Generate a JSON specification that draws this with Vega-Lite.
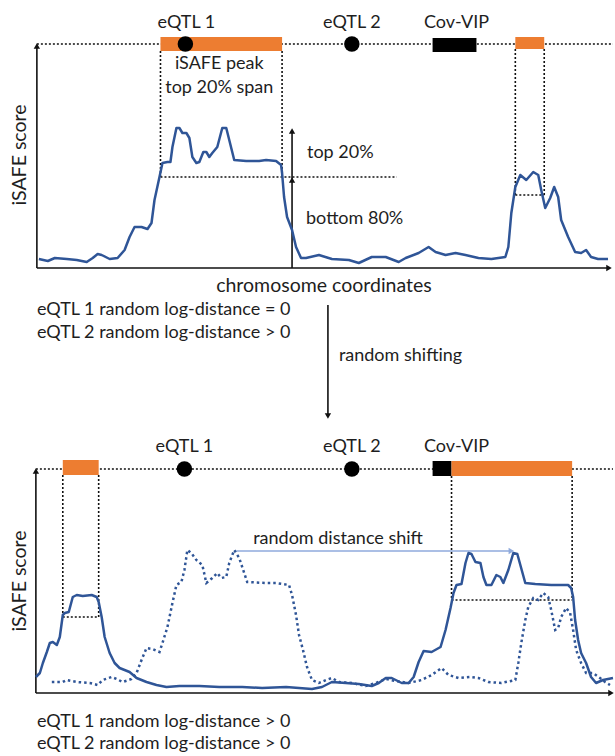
{
  "$schema": "https://vega.github.io/schema/vega-lite/v6.json",
  "width": 615,
  "height": 756,
  "padding": 0,
  "autosize": {"type": "fit", "contains": "padding"},
  "background": "white",
  "config": {
    "view": {"stroke": null},
    "axis": {"disable": true},
    "text": {"font": "Lato", "fontSize": 18, "color": "#1e1e1e"}
  },
  "datasets": {
    "dotted": [
      {"x": 37, "y": 44, "x2": 615, "y2": 44},
      {"x": 161, "y": 51, "x2": 161, "y2": 177},
      {"x": 283, "y": 51, "x2": 283, "y2": 177},
      {"x": 161, "y": 177, "x2": 398, "y2": 177},
      {"x": 517, "y": 49, "x2": 517, "y2": 195},
      {"x": 546, "y": 49, "x2": 546, "y2": 195},
      {"x": 517, "y": 195, "x2": 546, "y2": 195},
      {"x": 36, "y": 469, "x2": 615, "y2": 469},
      {"x": 63, "y": 475, "x2": 63, "y2": 617},
      {"x": 99, "y": 475, "x2": 99, "y2": 617},
      {"x": 63, "y": 617, "x2": 99, "y2": 617},
      {"x": 453, "y": 476, "x2": 453, "y2": 600},
      {"x": 574, "y": 476, "x2": 574, "y2": 600},
      {"x": 453, "y": 600, "x2": 574, "y2": 600}
    ],
    "solid": [
      {"x": 37, "y": 48, "x2": 37, "y2": 268},
      {"x": 37, "y": 268, "x2": 609, "y2": 268},
      {"x": 36, "y": 473, "x2": 36, "y2": 693},
      {"x": 36, "y": 693, "x2": 611, "y2": 693},
      {"x": 293, "y": 268, "x2": 293, "y2": 132},
      {"x": 329, "y": 305, "x2": 329, "y2": 414}
    ],
    "shift": [
      {"x": 237, "y": 551, "x2": 511, "y2": 551}
    ],
    "heads": [
      {"x": 37, "y": 46, "dir": "up", "tone": "black"},
      {"x": 36, "y": 471, "dir": "up", "tone": "black"},
      {"x": 293, "y": 131, "dir": "up", "tone": "black"},
      {"x": 293, "y": 180, "dir": "up", "tone": "black"},
      {"x": 611, "y": 268, "dir": "right", "tone": "black"},
      {"x": 613, "y": 693, "dir": "right", "tone": "black"},
      {"x": 329, "y": 416, "dir": "down", "tone": "black"},
      {"x": 513, "y": 551, "dir": "right", "tone": "shift"}
    ],
    "spans": [
      {"x": 161, "x2": 283, "y": 37, "y2": 51, "kind": "iSAFE peak"},
      {"x": 517, "x2": 546, "y": 37, "y2": 49, "kind": "iSAFE peak"},
      {"x": 434, "x2": 478, "y": 38, "y2": 52, "kind": "Cov-VIP"},
      {"x": 63, "x2": 99, "y": 460, "y2": 475, "kind": "iSAFE peak"},
      {"x": 434, "x2": 453, "y": 461, "y2": 476, "kind": "Cov-VIP"},
      {"x": 453, "x2": 574, "y": 461, "y2": 476, "kind": "iSAFE peak"}
    ],
    "eqtl": [
      {"x": 186, "y": 44, "name": "eQTL 1"},
      {"x": 353, "y": 44, "name": "eQTL 2"},
      {"x": 185, "y": 469, "name": "eQTL 1"},
      {"x": 353, "y": 469, "name": "eQTL 2"}
    ],
    "observed": [
      {"x": 39, "y": 259}, {"x": 48, "y": 261}, {"x": 55, "y": 258}, {"x": 67, "y": 259},
      {"x": 77, "y": 260}, {"x": 87, "y": 262}, {"x": 93, "y": 258}, {"x": 98, "y": 254},
      {"x": 102, "y": 255}, {"x": 110, "y": 259}, {"x": 118, "y": 258}, {"x": 125, "y": 250},
      {"x": 130, "y": 237}, {"x": 135, "y": 227}, {"x": 142, "y": 227}, {"x": 148, "y": 229},
      {"x": 152, "y": 223}, {"x": 155, "y": 200}, {"x": 160, "y": 177}, {"x": 163, "y": 163},
      {"x": 168, "y": 162}, {"x": 171, "y": 162}, {"x": 173, "y": 147}, {"x": 177, "y": 128},
      {"x": 180, "y": 128}, {"x": 183, "y": 133}, {"x": 187, "y": 133}, {"x": 190, "y": 138},
      {"x": 193, "y": 157}, {"x": 197, "y": 163}, {"x": 200, "y": 162}, {"x": 204, "y": 152},
      {"x": 207, "y": 152}, {"x": 210, "y": 157}, {"x": 213, "y": 153}, {"x": 218, "y": 147},
      {"x": 223, "y": 128}, {"x": 227, "y": 128}, {"x": 230, "y": 140}, {"x": 235, "y": 160},
      {"x": 247, "y": 161}, {"x": 260, "y": 161}, {"x": 267, "y": 160}, {"x": 277, "y": 161},
      {"x": 282, "y": 165}, {"x": 283, "y": 173}, {"x": 285, "y": 197}, {"x": 288, "y": 217},
      {"x": 293, "y": 230}, {"x": 297, "y": 247}, {"x": 302, "y": 258}, {"x": 307, "y": 258},
      {"x": 320, "y": 255}, {"x": 333, "y": 259}, {"x": 350, "y": 260}, {"x": 360, "y": 263},
      {"x": 373, "y": 257}, {"x": 387, "y": 257}, {"x": 400, "y": 262}, {"x": 407, "y": 258},
      {"x": 420, "y": 253}, {"x": 430, "y": 247}, {"x": 437, "y": 252}, {"x": 447, "y": 255},
      {"x": 457, "y": 253}, {"x": 467, "y": 255}, {"x": 480, "y": 258}, {"x": 493, "y": 259},
      {"x": 507, "y": 257}, {"x": 510, "y": 247}, {"x": 513, "y": 213}, {"x": 517, "y": 187},
      {"x": 522, "y": 175}, {"x": 528, "y": 180}, {"x": 535, "y": 172}, {"x": 540, "y": 175},
      {"x": 543, "y": 190}, {"x": 547, "y": 208}, {"x": 552, "y": 198}, {"x": 556, "y": 187},
      {"x": 560, "y": 197}, {"x": 563, "y": 220}, {"x": 570, "y": 237}, {"x": 577, "y": 252},
      {"x": 583, "y": 253}, {"x": 588, "y": 250}, {"x": 593, "y": 257}, {"x": 600, "y": 259},
      {"x": 610, "y": 259}
    ],
    "shiftedProfile": [
      {"x": 36, "y": 677}, {"x": 40, "y": 673}, {"x": 43, "y": 663}, {"x": 47, "y": 652},
      {"x": 50, "y": 643}, {"x": 53, "y": 642}, {"x": 57, "y": 645}, {"x": 60, "y": 637},
      {"x": 63, "y": 615}, {"x": 65, "y": 613}, {"x": 69, "y": 612}, {"x": 73, "y": 597},
      {"x": 77, "y": 595}, {"x": 83, "y": 596}, {"x": 92, "y": 595}, {"x": 97, "y": 597},
      {"x": 99, "y": 602}, {"x": 102, "y": 617}, {"x": 105, "y": 637}, {"x": 110, "y": 653},
      {"x": 115, "y": 663}, {"x": 120, "y": 668}, {"x": 130, "y": 672}, {"x": 137, "y": 678},
      {"x": 147, "y": 682}, {"x": 157, "y": 685}, {"x": 167, "y": 687}, {"x": 180, "y": 686},
      {"x": 200, "y": 686}, {"x": 220, "y": 687}, {"x": 243, "y": 687}, {"x": 263, "y": 688},
      {"x": 287, "y": 687}, {"x": 313, "y": 689}, {"x": 323, "y": 687}, {"x": 333, "y": 682},
      {"x": 347, "y": 683}, {"x": 360, "y": 684}, {"x": 373, "y": 686}, {"x": 380, "y": 683},
      {"x": 387, "y": 678}, {"x": 393, "y": 678}, {"x": 403, "y": 683}, {"x": 410, "y": 683},
      {"x": 415, "y": 677}, {"x": 420, "y": 662}, {"x": 425, "y": 651}, {"x": 433, "y": 652},
      {"x": 442, "y": 647}, {"x": 447, "y": 630}, {"x": 452, "y": 608}, {"x": 455, "y": 593},
      {"x": 458, "y": 585}, {"x": 463, "y": 584}, {"x": 467, "y": 563}, {"x": 470, "y": 553},
      {"x": 473, "y": 554}, {"x": 477, "y": 562}, {"x": 482, "y": 563}, {"x": 485, "y": 577},
      {"x": 488, "y": 585}, {"x": 493, "y": 585}, {"x": 498, "y": 575}, {"x": 502, "y": 577},
      {"x": 505, "y": 583}, {"x": 510, "y": 570}, {"x": 515, "y": 553}, {"x": 519, "y": 554},
      {"x": 527, "y": 583}, {"x": 537, "y": 584}, {"x": 553, "y": 585}, {"x": 570, "y": 585},
      {"x": 573, "y": 588}, {"x": 575, "y": 597}, {"x": 577, "y": 620}, {"x": 580, "y": 640},
      {"x": 583, "y": 653}, {"x": 588, "y": 663}, {"x": 593, "y": 677}, {"x": 598, "y": 683},
      {"x": 605, "y": 680}, {"x": 615, "y": 678}
    ],
    "originalProfile": [
      {"x": 52, "y": 682}, {"x": 63, "y": 682}, {"x": 67, "y": 680}, {"x": 77, "y": 682},
      {"x": 90, "y": 683}, {"x": 98, "y": 685}, {"x": 103, "y": 680}, {"x": 112, "y": 677},
      {"x": 117, "y": 679}, {"x": 123, "y": 682}, {"x": 132, "y": 679}, {"x": 137, "y": 673},
      {"x": 142, "y": 660}, {"x": 147, "y": 648}, {"x": 153, "y": 649}, {"x": 160, "y": 652},
      {"x": 163, "y": 643}, {"x": 168, "y": 627}, {"x": 173, "y": 603}, {"x": 177, "y": 585},
      {"x": 182, "y": 582}, {"x": 185, "y": 570}, {"x": 188, "y": 550}, {"x": 192, "y": 553},
      {"x": 197, "y": 560}, {"x": 203, "y": 565}, {"x": 207, "y": 583}, {"x": 213, "y": 578},
      {"x": 218, "y": 573}, {"x": 222, "y": 578}, {"x": 227, "y": 577}, {"x": 230, "y": 563},
      {"x": 235, "y": 550}, {"x": 240, "y": 558}, {"x": 248, "y": 582}, {"x": 267, "y": 583},
      {"x": 277, "y": 583}, {"x": 290, "y": 585}, {"x": 293, "y": 595}, {"x": 297, "y": 615},
      {"x": 300, "y": 635}, {"x": 304, "y": 650}, {"x": 308, "y": 667}, {"x": 313, "y": 680},
      {"x": 320, "y": 683}, {"x": 327, "y": 680}, {"x": 333, "y": 678}, {"x": 340, "y": 682},
      {"x": 353, "y": 683}, {"x": 367, "y": 686}, {"x": 377, "y": 683}, {"x": 387, "y": 679},
      {"x": 397, "y": 681}, {"x": 410, "y": 683}, {"x": 423, "y": 680}, {"x": 433, "y": 675},
      {"x": 443, "y": 668}, {"x": 450, "y": 675}, {"x": 460, "y": 678}, {"x": 472, "y": 677},
      {"x": 480, "y": 678}, {"x": 490, "y": 682}, {"x": 503, "y": 683}, {"x": 517, "y": 680},
      {"x": 520, "y": 663}, {"x": 523, "y": 643}, {"x": 527, "y": 620}, {"x": 530, "y": 607},
      {"x": 535, "y": 598}, {"x": 540, "y": 600}, {"x": 545, "y": 593}, {"x": 550, "y": 597},
      {"x": 553, "y": 610}, {"x": 557, "y": 630}, {"x": 560, "y": 628}, {"x": 563, "y": 617},
      {"x": 568, "y": 608}, {"x": 572, "y": 613}, {"x": 575, "y": 630}, {"x": 578, "y": 650},
      {"x": 583, "y": 663}, {"x": 588, "y": 673}, {"x": 595, "y": 673}, {"x": 602, "y": 678},
      {"x": 607, "y": 682}, {"x": 612, "y": 685}
    ],
    "labels": [
      {"x": 187, "y": 23, "text": "eQTL 1", "style": "center"},
      {"x": 353, "y": 23, "text": "eQTL 2", "style": "center"},
      {"x": 458, "y": 23, "text": "Cov-VIP", "style": "center"},
      {"x": 220, "y": 64, "text": "iSAFE peak", "style": "center"},
      {"x": 220, "y": 88, "text": "top 20% span", "style": "center"},
      {"x": 308, "y": 153, "text": "top 20%", "style": "left"},
      {"x": 307, "y": 219, "text": "bottom 80%", "style": "left"},
      {"x": 325, "y": 286, "text": "chromosome coordinates", "style": "title"},
      {"x": 37, "y": 310, "text": "eQTL 1 random log-distance = 0", "style": "left"},
      {"x": 37, "y": 333, "text": "eQTL 2 random log-distance > 0", "style": "left"},
      {"x": 340, "y": 356, "text": "random shifting", "style": "left"},
      {"x": 185, "y": 447, "text": "eQTL 1", "style": "center"},
      {"x": 353, "y": 447, "text": "eQTL 2", "style": "center"},
      {"x": 458, "y": 447, "text": "Cov-VIP", "style": "center"},
      {"x": 254, "y": 539, "text": "random distance shift", "style": "left"},
      {"x": 37, "y": 722, "text": "eQTL 1 random log-distance > 0", "style": "left"},
      {"x": 37, "y": 744, "text": "eQTL 2 random log-distance > 0", "style": "left"},
      {"x": 20, "y": 155, "text": "iSAFE score", "style": "vertical"},
      {"x": 20, "y": 581, "text": "iSAFE score", "style": "vertical"}
    ]
  },
  "encoding": {
    "x": {"field": "x", "type": "quantitative", "scale": {"domain": [0, 615], "nice": false, "zero": false}},
    "y": {"field": "y", "type": "quantitative", "scale": {"domain": [0, 756], "nice": false, "zero": false, "reverse": true}}
  },
  "layer": [
    {
      "data": {"name": "dotted"},
      "mark": {"type": "rule", "color": "#111111", "strokeWidth": 1.6, "strokeDash": [2, 2]},
      "encoding": {"x2": {"field": "x2"}, "y2": {"field": "y2"}}
    },
    {
      "data": {"name": "solid"},
      "mark": {"type": "rule", "color": "#111111", "strokeWidth": 1.6},
      "encoding": {"x2": {"field": "x2"}, "y2": {"field": "y2"}}
    },
    {
      "data": {"name": "shift"},
      "mark": {"type": "rule", "color": "#8FAADC", "strokeWidth": 1.5},
      "encoding": {"x2": {"field": "x2"}, "y2": {"field": "y2"}}
    },
    {
      "data": {"name": "spans"},
      "mark": {"type": "rect"},
      "encoding": {
        "x2": {"field": "x2"},
        "y2": {"field": "y2"},
        "color": {"field": "kind", "type": "nominal", "legend": null,
                  "scale": {"domain": ["iSAFE peak", "Cov-VIP"], "range": ["#ED7D31", "#000000"]}}
      }
    },
    {
      "data": {"name": "eqtl"},
      "mark": {"type": "point", "shape": "circle", "filled": true, "color": "#000000", "opacity": 1, "size": 240}
    },
    {
      "data": {"name": "observed"},
      "mark": {"type": "line", "color": "#2F5597", "strokeWidth": 2.5, "strokeJoin": "round"},
      "encoding": {}
    },
    {
      "data": {"name": "originalProfile"},
      "mark": {"type": "line", "color": "#2F5597", "strokeWidth": 2.5, "strokeDash": [2.5, 3]},
      "encoding": {}
    },
    {
      "data": {"name": "shiftedProfile"},
      "mark": {"type": "line", "color": "#2F5597", "strokeWidth": 2.5, "strokeJoin": "round"},
      "encoding": {}
    },
    {
      "data": {"name": "heads"},
      "transform": [{"filter": "datum.dir === 'up' && datum.tone === 'black'"}],
      "mark": {"type": "point", "shape": "triangle-up", "filled": true, "color": "#111111", "opacity": 1, "size": 40}
    },
    {
      "data": {"name": "heads"},
      "transform": [{"filter": "datum.dir === 'down'"}],
      "mark": {"type": "point", "shape": "triangle-down", "filled": true, "color": "#111111", "opacity": 1, "size": 40}
    },
    {
      "data": {"name": "heads"},
      "transform": [{"filter": "datum.dir === 'right' && datum.tone === 'black'"}],
      "mark": {"type": "point", "shape": "triangle-right", "filled": true, "color": "#111111", "opacity": 1, "size": 40}
    },
    {
      "data": {"name": "heads"},
      "transform": [{"filter": "datum.tone === 'shift'"}],
      "mark": {"type": "point", "shape": "triangle-right", "filled": true, "color": "#8FAADC", "opacity": 1, "size": 40}
    },
    {
      "data": {"name": "labels"},
      "transform": [{"filter": "datum.style === 'center'"}],
      "mark": {"type": "text", "align": "center", "baseline": "middle"},
      "encoding": {"text": {"field": "text"}}
    },
    {
      "data": {"name": "labels"},
      "transform": [{"filter": "datum.style === 'title'"}],
      "mark": {"type": "text", "align": "center", "baseline": "middle", "fontSize": 19.5},
      "encoding": {"text": {"field": "text"}}
    },
    {
      "data": {"name": "labels"},
      "transform": [{"filter": "datum.style === 'left'"}],
      "mark": {"type": "text", "align": "left", "baseline": "middle"},
      "encoding": {"text": {"field": "text"}}
    },
    {
      "data": {"name": "labels"},
      "transform": [{"filter": "datum.style === 'vertical'"}],
      "mark": {"type": "text", "align": "center", "baseline": "middle", "angle": 270, "fontSize": 19.5},
      "encoding": {"text": {"field": "text"}}
    }
  ]
}
